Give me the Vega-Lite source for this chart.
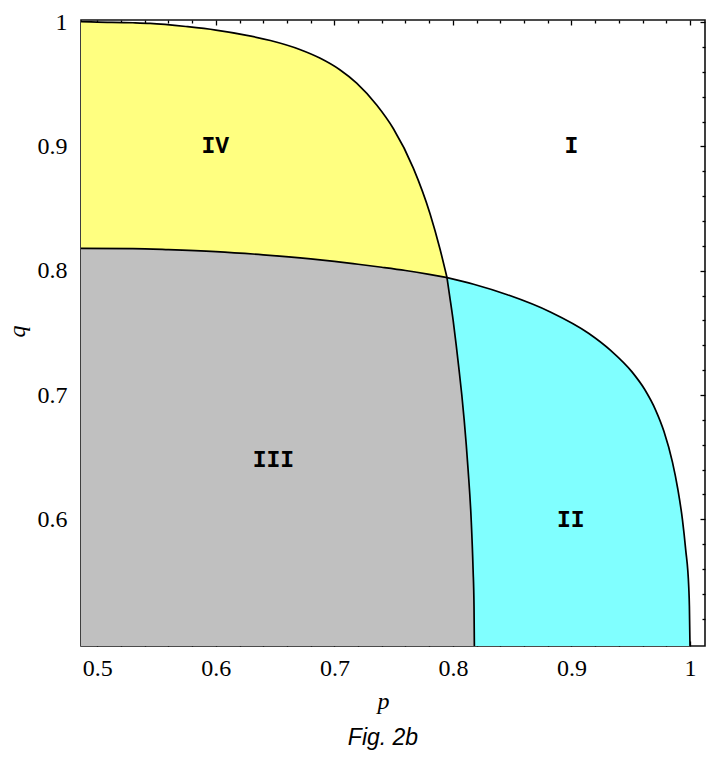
{
  "$schema": "https://vega.github.io/schema/vega-lite/v6.json",
  "width": 624,
  "height": 626,
  "autosize": "none",
  "padding": {"left": 81, "top": 20, "right": 1, "bottom": 117},
  "background": "white",
  "config": {
    "view": {"stroke": "#111111", "strokeWidth": 1.6},
    "axis": {
      "domain": false,
      "grid": false,
      "tickColor": "#000000",
      "tickWidth": 1.3,
      "labelColor": "#000000",
      "labelFont": "Liberation Serif",
      "labelFontSize": 24,
      "titleColor": "#000000",
      "titleFont": "Liberation Serif",
      "titleFontSize": 24,
      "titleFontStyle": "italic",
      "titleFontWeight": "normal",
      "labelFlush": false,
      "labelOverlap": false
    }
  },
  "title": {
    "text": "Fig. 2b",
    "orient": "bottom",
    "anchor": "middle",
    "font": "Liberation Sans",
    "fontSize": 23,
    "fontStyle": "italic",
    "fontWeight": "normal",
    "color": "#000000",
    "dx": -10,
    "offset": 14
  },
  "datasets": {
    "curves": [
      {"curve": "T", "p": 0.4862, "q": 1.0003},
      {"curve": "T", "p": 0.5, "q": 1.0},
      {"curve": "T", "p": 0.53, "q": 0.9995},
      {"curve": "T", "p": 0.5445, "q": 0.999},
      {"curve": "T", "p": 0.5762, "q": 0.9963},
      {"curve": "T", "p": 0.6, "q": 0.9936},
      {"curve": "T", "p": 0.625, "q": 0.9896},
      {"curve": "T", "p": 0.646, "q": 0.9852},
      {"curve": "T", "p": 0.6708, "q": 0.978},
      {"curve": "T", "p": 0.6877, "q": 0.9711},
      {"curve": "T", "p": 0.7046, "q": 0.9617},
      {"curve": "T", "p": 0.7188, "q": 0.9509},
      {"curve": "T", "p": 0.7357, "q": 0.9333},
      {"curve": "T", "p": 0.7497, "q": 0.9144},
      {"curve": "T", "p": 0.7666, "q": 0.8826},
      {"curve": "T", "p": 0.7807, "q": 0.8459},
      {"curve": "T", "p": 0.7891, "q": 0.8175},
      {"curve": "T", "p": 0.795, "q": 0.7945},
      {"curve": "C", "p": 0.795, "q": 0.7945},
      {"curve": "C", "p": 0.8175, "q": 0.7891},
      {"curve": "C", "p": 0.8459, "q": 0.7807},
      {"curve": "C", "p": 0.8826, "q": 0.7666},
      {"curve": "C", "p": 0.9144, "q": 0.7497},
      {"curve": "C", "p": 0.9333, "q": 0.7357},
      {"curve": "C", "p": 0.9509, "q": 0.7188},
      {"curve": "C", "p": 0.9617, "q": 0.7046},
      {"curve": "C", "p": 0.9711, "q": 0.6877},
      {"curve": "C", "p": 0.978, "q": 0.6708},
      {"curve": "C", "p": 0.9852, "q": 0.646},
      {"curve": "C", "p": 0.9896, "q": 0.625},
      {"curve": "C", "p": 0.9936, "q": 0.6},
      {"curve": "C", "p": 0.9963, "q": 0.5762},
      {"curve": "C", "p": 0.999, "q": 0.5445},
      {"curve": "C", "p": 0.9995, "q": 0.53},
      {"curve": "C", "p": 1.0, "q": 0.4981},
      {"curve": "G", "p": 0.4862, "q": 0.818},
      {"curve": "G", "p": 0.53, "q": 0.8178},
      {"curve": "G", "p": 0.56, "q": 0.817},
      {"curve": "G", "p": 0.6, "q": 0.8154},
      {"curve": "G", "p": 0.64, "q": 0.8128},
      {"curve": "G", "p": 0.68, "q": 0.8095},
      {"curve": "G", "p": 0.7, "q": 0.8075},
      {"curve": "G", "p": 0.72, "q": 0.8052},
      {"curve": "G", "p": 0.74, "q": 0.8028},
      {"curve": "G", "p": 0.76, "q": 0.8002},
      {"curve": "G", "p": 0.78, "q": 0.7971},
      {"curve": "G", "p": 0.795, "q": 0.7945},
      {"curve": "H", "p": 0.795, "q": 0.7945},
      {"curve": "H", "p": 0.7972, "q": 0.78},
      {"curve": "H", "p": 0.8002, "q": 0.76},
      {"curve": "H", "p": 0.8028, "q": 0.74},
      {"curve": "H", "p": 0.8052, "q": 0.72},
      {"curve": "H", "p": 0.8075, "q": 0.7},
      {"curve": "H", "p": 0.8095, "q": 0.68},
      {"curve": "H", "p": 0.8128, "q": 0.64},
      {"curve": "H", "p": 0.8154, "q": 0.6},
      {"curve": "H", "p": 0.817, "q": 0.56},
      {"curve": "H", "p": 0.8178, "q": 0.53},
      {"curve": "H", "p": 0.8181, "q": 0.4981}
    ],
    "regions": [
      {"label": "I", "p": 0.9, "q": 0.9},
      {"label": "II", "p": 0.8995, "q": 0.5994},
      {"label": "III", "p": 0.6485, "q": 0.6477},
      {"label": "IV", "p": 0.5995, "q": 0.9}
    ]
  },
  "resolve": {"axis": {"x": "independent", "y": "independent"}},
  "layer": [
    {
      "data": {"name": "curves"},
      "transform": [{"filter": "datum.curve === 'T'"}],
      "mark": {"type": "area", "color": "#FFFF80", "interpolate": "monotone", "clip": true},
      "encoding": {
        "x": {
          "field": "p", "type": "quantitative",
          "scale": {"domain": [0.48625, 1.01266], "nice": false, "zero": false},
          "axis": {
            "orient": "bottom",
            "values": [0.5, 0.6, 0.7, 0.8, 0.9, 1.0],
            "format": ".1~f",
            "tickSize": -5,
            "labelPadding": 15,
            "title": "p",
            "titleX": 302,
            "titleY": 62,
            "titleAlign": "center",
            "titleBaseline": "alphabetic"
          }
        },
        "y": {
          "field": "q", "type": "quantitative",
          "scale": {"domain": [0.4981, 1.0017], "nice": false, "zero": false},
          "axis": {
            "orient": "left",
            "values": [0.6, 0.7, 0.8, 0.9, 1.0],
            "format": ".1~f",
            "tickSize": -5,
            "labelPadding": 19,
            "title": "q",
            "titleX": -57,
            "titleY": 311,
            "titleAngle": -90,
            "titleAlign": "center",
            "titleBaseline": "alphabetic"
          }
        },
        "y2": {"datum": 0.4981}
      }
    },
    {
      "data": {"name": "curves"},
      "transform": [{"filter": "datum.curve === 'C'"}],
      "mark": {"type": "area", "color": "#80FFFF", "interpolate": "monotone", "clip": true},
      "encoding": {
        "x": {
          "field": "p", "type": "quantitative",
          "scale": {"domain": [0.48625, 1.01266], "nice": false, "zero": false},
          "axis": {
            "orient": "bottom",
            "values": [0.52, 0.54, 0.56, 0.58, 0.62, 0.64, 0.66, 0.68, 0.72, 0.74, 0.76, 0.78, 0.82, 0.84, 0.86, 0.88, 0.92, 0.94, 0.96, 0.98],
            "tickSize": -3,
            "labels": false,
            "title": null
          }
        },
        "y": {
          "field": "q", "type": "quantitative",
          "scale": {"domain": [0.4981, 1.0017], "nice": false, "zero": false},
          "axis": {
            "orient": "left",
            "values": [0.52, 0.54, 0.56, 0.58, 0.62, 0.64, 0.66, 0.68, 0.72, 0.74, 0.76, 0.78, 0.82, 0.84, 0.86, 0.88, 0.92, 0.94, 0.96, 0.98],
            "tickSize": -3,
            "labels": false,
            "title": null
          }
        },
        "y2": {"datum": 0.4981}
      }
    },
    {
      "data": {"name": "curves"},
      "transform": [{"filter": "datum.curve === 'G' || datum.curve === 'H'"}],
      "mark": {"type": "area", "color": "#C0C0C0", "interpolate": "monotone", "clip": true},
      "encoding": {
        "x": {
          "field": "p", "type": "quantitative",
          "scale": {"domain": [0.48625, 1.01266], "nice": false, "zero": false},
          "axis": {
            "orient": "top",
            "values": [0.5, 0.6, 0.7, 0.8, 0.9, 1.0],
            "tickSize": -5,
            "labels": false,
            "title": null
          }
        },
        "y": {
          "field": "q", "type": "quantitative",
          "scale": {"domain": [0.4981, 1.0017], "nice": false, "zero": false},
          "axis": {
            "orient": "right",
            "values": [0.6, 0.7, 0.8, 0.9, 1.0],
            "tickSize": -5,
            "labels": false,
            "title": null
          }
        },
        "y2": {"datum": 0.4981}
      }
    },
    {
      "data": {"name": "curves"},
      "mark": {"type": "line", "color": "#000000", "strokeWidth": 1.7, "interpolate": "monotone", "clip": true},
      "encoding": {
        "x": {
          "field": "p", "type": "quantitative",
          "scale": {"domain": [0.48625, 1.01266], "nice": false, "zero": false},
          "axis": {
            "orient": "top",
            "values": [0.52, 0.54, 0.56, 0.58, 0.62, 0.64, 0.66, 0.68, 0.72, 0.74, 0.76, 0.78, 0.82, 0.84, 0.86, 0.88, 0.92, 0.94, 0.96, 0.98],
            "tickSize": -3,
            "labels": false,
            "title": null
          }
        },
        "y": {
          "field": "q", "type": "quantitative",
          "scale": {"domain": [0.4981, 1.0017], "nice": false, "zero": false},
          "axis": {
            "orient": "right",
            "values": [0.52, 0.54, 0.56, 0.58, 0.62, 0.64, 0.66, 0.68, 0.72, 0.74, 0.76, 0.78, 0.82, 0.84, 0.86, 0.88, 0.92, 0.94, 0.96, 0.98],
            "tickSize": -3,
            "labels": false,
            "title": null
          }
        },
        "detail": {"field": "curve"}
      }
    },
    {
      "data": {"name": "regions"},
      "mark": {"type": "text", "font": "Liberation Mono", "fontWeight": "bold", "fontSize": 23, "color": "#000000"},
      "encoding": {
        "x": {"field": "p", "type": "quantitative", "scale": {"domain": [0.48625, 1.01266], "nice": false, "zero": false}, "axis": null},
        "y": {"field": "q", "type": "quantitative", "scale": {"domain": [0.4981, 1.0017], "nice": false, "zero": false}, "axis": null},
        "text": {"field": "label"}
      }
    }
  ]
}
